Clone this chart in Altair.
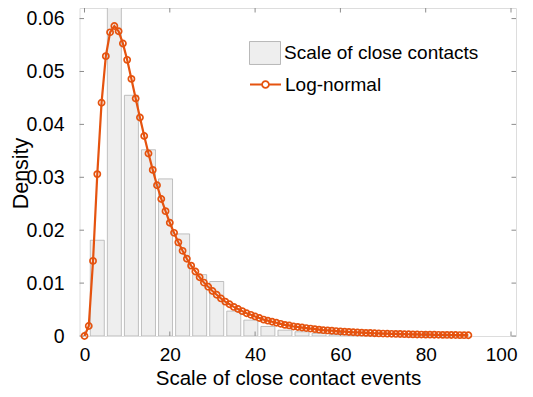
import altair as alt
import pandas as pd

# ---------------- data ----------------
bar_centers = [3, 7, 11, 15, 19, 23, 27, 31, 35, 39, 43, 47, 51, 55, 59, 63, 67]
bar_density = [0.0181, 0.0640, 0.0455, 0.0352, 0.0297, 0.0193, 0.0116, 0.0103,
               0.0047, 0.0030, 0.0018, 0.0011, 0.0008, 0.0005, 0.0003, 0.0002, 0.0001]

fit_x = list(range(0, 91))
fit_density = [
    0.0, 0.0019, 0.0142, 0.0306, 0.0441, 0.0529, 0.0574, 0.0586, 0.0576, 0.0553,
    0.0522, 0.0486, 0.0449, 0.0413, 0.0378, 0.0345, 0.0314, 0.0285, 0.0259, 0.0236,
    0.0214, 0.0195, 0.0177, 0.0161, 0.0146, 0.0133, 0.0122, 0.0111, 0.0101, 0.0093,
    0.0085, 0.0078, 0.0071, 0.0065, 0.0060, 0.0055, 0.0051, 0.0047, 0.0043, 0.0040,
    0.0037, 0.0034, 0.0031, 0.0029, 0.0027, 0.0025, 0.0023, 0.0021, 0.0020, 0.0018,
    0.0017, 0.0016, 0.0015, 0.0014, 0.0013, 0.0012, 0.0011, 0.00106, 0.00099, 0.00093,
    0.00087, 0.00081, 0.00076, 0.00071, 0.00067, 0.00063, 0.00059, 0.00056, 0.00052, 0.00049,
    0.00046, 0.00044, 0.00041, 0.00039, 0.00037, 0.00035, 0.00033, 0.00031, 0.00029, 0.00027,
    0.00026, 0.00025, 0.00023, 0.00022, 0.00021, 0.00020, 0.00019, 0.00018, 0.00017, 0.00016,
    0.00015,
]

x_ticks = [0, 20, 40, 60, 80, 100]
y_ticks = [0, 0.01, 0.02, 0.03, 0.04, 0.05, 0.06]
bar_name = "Scale of close contacts"
fit_name = "Log-normal"

# ---------------- styling ----------------
ORANGE = "#e5530f"
BAR_FILL = "#eeeeee"
BAR_EDGE = "#a8a8a8"
FRAME = "#8c8c8c"
FONT = "Liberation Sans"
W, H = 436.5, 328
TICK = 4.5
LAST = "datum.value == 100"

bars_df = pd.DataFrame({"x": bar_centers, "y": bar_density, "series": bar_name})
fit_df = pd.DataFrame({"x": fit_x, "y": fit_density, "series": fit_name})
xt_df = pd.DataFrame({"x": x_ticks})
yt_df = pd.DataFrame({"y": y_ticks})

xscale = alt.Scale(domain=[0, 100], nice=False, zero=False)
yscale = alt.Scale(domain=[0, 0.0620], nice=False)

xaxis = alt.Axis(values=x_ticks, format="d", title="Scale of close contact events",
                 ticks=False, domain=False, grid=False, labelFlush=False,
                 labelFontSize=19, labelPadding=9.5, labelColor="black", labelFont=FONT,
                 labelAlign={"condition": {"test": LAST, "value": "right"}, "value": "center"},
                 labelOffset={"condition": {"test": LAST, "value": 6}, "value": 0},
                 titleFontSize=20.5, titleFontWeight="normal", titleColor="black", titleFont=FONT,
                 titleX=208.5, titleY=48.5, titleBaseline="alphabetic", titleAlign="center")
yaxis = alt.Axis(values=y_ticks, title="Density",
                 labelExpr="datum.value == 0 ? '0' : format(datum.value, '.2f')",
                 ticks=False, domain=False, grid=False,
                 labelFontSize=19.5, labelPadding=15.5, labelColor="black", labelFont=FONT,
                 titleFontSize=21.5, titleFontWeight="normal", titleColor="black", titleFont=FONT,
                 titleAngle=270, titleX=-52, titleY=165, titleBaseline="alphabetic",
                 titleAlign="center")

X = alt.X("x:Q", scale=xscale, axis=xaxis)
Y = alt.Y("y:Q", scale=yscale, axis=yaxis)

legend_common = dict(title=None, orient="none", symbolSize=961, labelFontSize=19,
                     labelFont=FONT, labelColor="black", labelOffset=3, labelLimit=400,
                     rowPadding=0, padding=0)

bar_fill = alt.Fill("series:N", scale=alt.Scale(domain=[bar_name], range=[BAR_FILL]),
                    legend=alt.Legend(legendX=169.5, legendY=29,
                                      symbolType="M-1,-0.74H1V0.74H-1Z",
                                      symbolStrokeColor=BAR_EDGE, symbolStrokeWidth=0.8,
                                      **legend_common))
fit_stroke = alt.Stroke("series:N", scale=alt.Scale(domain=[fit_name], range=[ORANGE]),
                        legend=alt.Legend(legendX=169.5, legendY=60,
                                          symbolType="M-1,0H-0.22M0.22,0H1M0.22,0A0.22,0.22 0 1,1 -0.22,0A0.22,0.22 0 1,1 0.22,0Z",
                                          symbolFillColor="transparent", symbolStrokeWidth=1.8,
                                          **legend_common))

bars = alt.Chart(bars_df).mark_bar(size=14, stroke=BAR_EDGE, strokeWidth=0.7, clip=True).encode(
    x=X, y=Y, fill=bar_fill)

tick_xb = alt.Chart(xt_df).mark_rule(color=FRAME, strokeWidth=1).encode(
    x=X, y=alt.value(H), y2=alt.value(H - TICK))
tick_xt = alt.Chart(xt_df).mark_rule(color=FRAME, strokeWidth=1).encode(
    x=X, y=alt.value(0), y2=alt.value(TICK))
tick_yl = alt.Chart(yt_df).mark_rule(color=FRAME, strokeWidth=1).encode(
    y=Y, x=alt.value(0), x2=alt.value(TICK))
tick_yr = alt.Chart(yt_df).mark_rule(color=FRAME, strokeWidth=1).encode(
    y=Y, x=alt.value(W), x2=alt.value(W - TICK))

line = alt.Chart(fit_df).mark_line(strokeWidth=2.2).encode(x=X, y=Y, stroke=fit_stroke)
points = alt.Chart(fit_df).mark_point(shape="circle", filled=False, size=38,
                                      strokeWidth=1.7, opacity=1).encode(x=X, y=Y, stroke=fit_stroke)

chart = alt.layer(bars, tick_xb, tick_xt, tick_yl, tick_yr, line, points).properties(
    width=W, height=H,
    autosize=alt.AutoSizeParams(type="none"),
    padding={"left": 71.5, "top": 0, "right": 9, "bottom": 381 - H},
).configure_view(stroke=FRAME, strokeWidth=1).configure(font=FONT)

chart.save("out.html", embed_options={"renderer": "svg", "actions": False})
